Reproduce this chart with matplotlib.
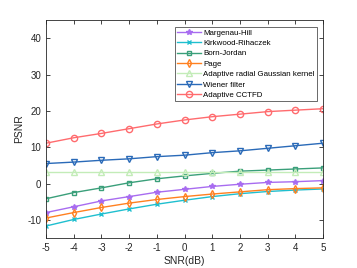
import matplotlib.pyplot as plt

snr = [-5, -4, -3, -2, -1, 0, 1, 2, 3, 4, 5]

margenau_hill = [-8.0, -6.4, -4.8, -3.6, -2.4, -1.6, -0.8, -0.2, 0.3, 0.5, 0.8]
kirkwood = [-11.7, -9.9, -8.4, -7.0, -5.7, -4.6, -3.6, -2.8, -2.2, -1.8, -1.5]
born_jordan = [-4.2, -2.5, -1.2, 0.2, 1.3, 2.1, 2.8, 3.4, 3.7, 4.0, 4.3]
page = [-9.5, -8.0, -6.6, -5.4, -4.4, -3.6, -2.9, -2.3, -1.7, -1.4, -1.2]
radial_gauss = [3.2, 3.2, 3.2, 3.2, 3.2, 3.2, 3.2, 3.2, 3.2, 3.2, 3.2]
wiener = [5.5, 5.9, 6.4, 6.8, 7.4, 7.8, 8.5, 9.0, 9.7, 10.4, 11.1]
cctfd = [11.1, 12.6, 13.8, 15.1, 16.4, 17.5, 18.4, 19.1, 19.8, 20.2, 20.6]

labels = ["Margenau-Hill", "Kirkwood-Rihaczek", "Born-Jordan", "Page",
          "Adaptive radial Gaussian kernel", "Wiener filter", "Adaptive CCTFD"]

plt.rcParams["font.family"] = "Liberation Sans"
plt.rcParams["axes.unicode_minus"] = False

fig = plt.figure(figsize=(3.57, 2.68), dpi=100)
ax = fig.add_axes([0.129, 0.112, 0.776, 0.813])

ms = 4
ax.plot(snr, margenau_hill, color="#a86cf0", marker="*", ms=ms, lw=1)
ax.plot(snr, kirkwood, color="#1fbfcf", marker="x", ms=ms - 1, lw=1)
ax.plot(snr, born_jordan, color="#3a9f7a", marker="s", ms=ms - 0.5, lw=1, mfc="none")
ax.plot(snr, page, color="#ff8020", marker="d", ms=ms, lw=1, mfc="none")
ax.plot(snr, radial_gauss, color="#c3ecb8", marker="^", ms=ms + 0.5, lw=1, mfc="none")
ax.plot(snr, wiener, color="#2a6ab8", marker="v", ms=ms + 0.5, lw=1, mfc="none")
ax.plot(snr, cctfd, color="#ff6b6e", marker="o", ms=ms + 0.5, lw=1, mfc="none")

ax.set_xlim(-5, 5)
ax.set_ylim(-15, 45)
ax.set_xticks(snr)
ax.set_yticks([-10, 0, 10, 20, 30, 40])
ax.tick_params(direction="in", top=True, right=True, labelsize=7,
               colors="#262626", length=3, width=0.6)
for s in ax.spines.values():
    s.set_color("#262626")
    s.set_linewidth(0.6)
ax.set_xlabel("SNR(dB)", fontsize=7.5, color="#262626", labelpad=2)
ax.set_ylabel("PSNR", fontsize=7.5, color="#262626", labelpad=2)

leg = ax.legend(labels, loc="upper right", fontsize=5.7, frameon=True,
                fancybox=False, edgecolor="#262626", handlelength=3.0,
                borderpad=0.3, labelspacing=0.36, handletextpad=0.3,
                borderaxespad=0, bbox_to_anchor=(0.978, 0.97))
leg.get_frame().set_linewidth(0.6)

fig.savefig("out.png", dpi=100)
plt.close()
